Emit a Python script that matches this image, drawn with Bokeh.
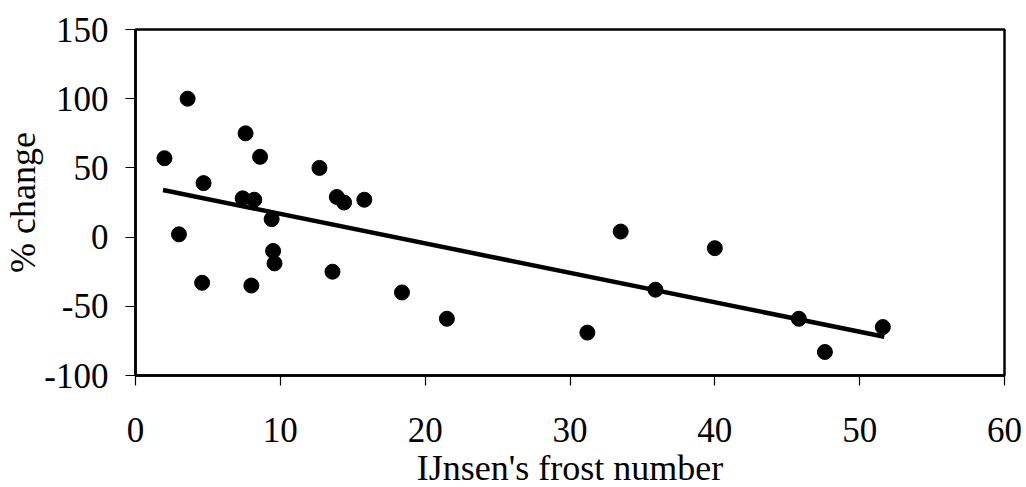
from bokeh.plotting import figure
from bokeh.models import Range1d, FixedTicker, PrintfTickFormatter
from bokeh.embed import file_html
from bokeh.resources import INLINE

# Data
frost_number = [2.0, 3.6, 3.0, 4.7, 4.6, 7.6, 7.4, 8.2, 8.6, 8.0, 9.4, 9.5, 9.6,
                12.7, 13.6, 13.9, 14.4, 15.8, 18.4, 21.5, 31.2, 33.5, 35.9, 40.0,
                45.8, 47.6, 51.6]
pct_change = [57, 100, 2, 39, -33, 75, 28, 27, 58, -35, 13, -10, -19,
              50, -25, 29, 25, 27, -40, -59, -69, 4, -38, -8,
              -59, -83, -65]
trend_x = [1.9, 51.7]
trend_y = [34, -72]
x_ticks = [0, 10, 20, 30, 40, 50, 60]
y_ticks = [-100, -50, 0, 50, 100, 150]

FONT = "Liberation Serif"

p = figure(frame_width=869, frame_height=346,
           x_range=Range1d(0, 60), y_range=Range1d(-100, 150),
           output_backend="svg", toolbar_location=None,
           min_border_top=29, min_border_right=20, min_border_left=0,
           min_border_bottom=0)

p.line(trend_x, trend_y, line_color="black", line_width=4.5)
p.scatter(frost_number, pct_change, size=15, fill_color="black",
          line_color="black")

p.xgrid.visible = False
p.ygrid.visible = False
p.outline_line_color = "black"
p.outline_line_width = 2.5
p.background_fill_color = "white"
p.border_fill_color = "white"

p.xaxis.ticker = FixedTicker(ticks=x_ticks)
p.yaxis.ticker = FixedTicker(ticks=y_ticks)
p.xaxis.formatter = PrintfTickFormatter(format="%d")
p.yaxis.formatter = PrintfTickFormatter(format="%d")
p.xaxis.axis_label = "IJnsen's frost number"
p.yaxis.axis_label = "% change"

for ax in (p.xaxis[0], p.yaxis[0]):
    ax.axis_line_color = "black"
    ax.axis_line_width = 2.5
    ax.major_tick_line_color = "black"
    ax.major_tick_line_width = 1.2
    ax.major_tick_out = 10
    ax.major_tick_in = 0
    ax.minor_tick_line_color = None
    ax.major_label_text_font = FONT
    ax.major_label_text_font_size = "35px"
    ax.major_label_text_color = "black"
    ax.axis_label_text_font = FONT
    ax.axis_label_text_font_size = "36px"
    ax.axis_label_text_font_style = "normal"
    ax.axis_label_text_color = "black"

p.xaxis.major_label_standoff = 32
p.yaxis.major_label_standoff = 17
p.xaxis.axis_label_standoff = 3
p.yaxis.axis_label_standoff = -2

open("out.html", "w").write(file_html(p, INLINE))
